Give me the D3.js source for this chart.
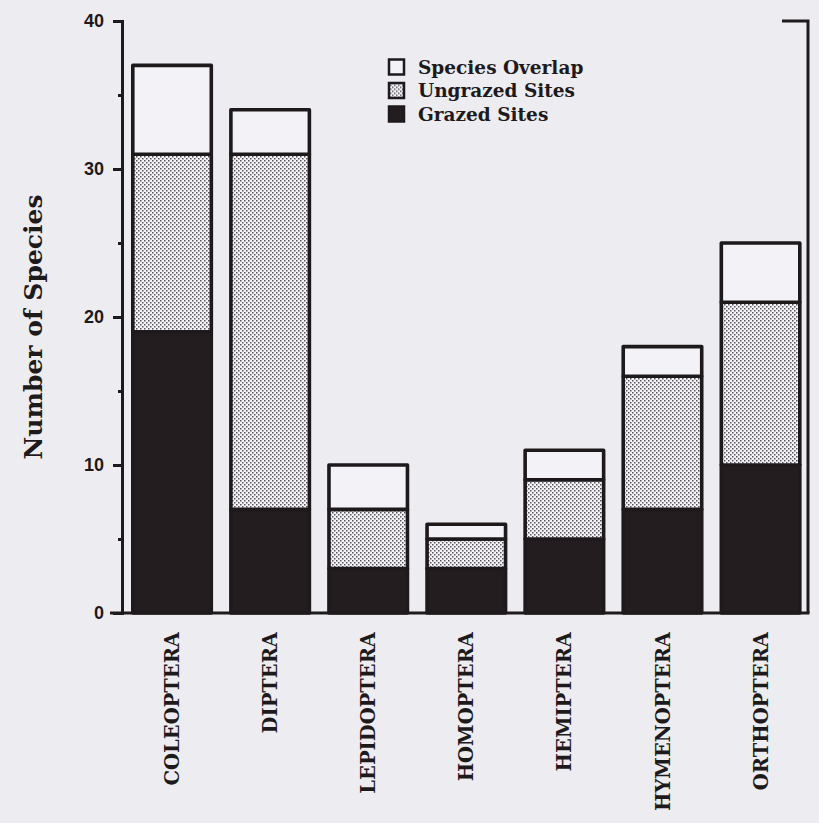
<!DOCTYPE html>
<html>
<head>
<meta charset="utf-8">
<script src="https://cdn.jsdelivr.net/npm/d3@7"></script>
<style>
  html, body { margin: 0; padding: 0; background: #edecf1; }
  svg { display: block; }
</style>
</head>
<body>
<svg id="chart" width="819" height="823"></svg>
<script>
// Insect orders and species counts, stacked bottom to top
const categories = ["COLEOPTERA", "DIPTERA", "LEPIDOPTERA", "HOMOPTERA", "HEMIPTERA", "HYMENOPTERA", "ORTHOPTERA"];
const grazed   = [19, 7, 3, 3, 5, 7, 10];
const ungrazed = [12, 24, 4, 2, 4, 9, 11];
const overlap  = [6, 3, 3, 1, 2, 2, 4];
const seriesKeys = ["grazed", "ungrazed", "overlap"];
const legendLabels = ["Species Overlap", "Ungrazed Sites", "Grazed Sites"];
const legendKeys = ["overlap", "ungrazed", "grazed"];
const majorTicks = [0, 10, 20, 30, 40];
const minorTicks = [5, 15, 25, 35];

const rows = categories.map((c, i) => ({
  category: c, grazed: grazed[i], ungrazed: ungrazed[i], overlap: overlap[i]
}));

const svg = d3.select("#chart");
const ink = "#1e1a1c";
const serif = "'DejaVu Serif', serif";

// Dotted halftone used for the ungrazed segments
const defs = svg.append("defs");
const pat = defs.append("pattern")
  .attr("id", "dots").attr("patternUnits", "userSpaceOnUse")
  .attr("width", 4).attr("height", 4);
pat.append("rect").attr("width", 4).attr("height", 4).attr("fill", "#f5f4f7");
pat.append("rect").attr("x", 0).attr("y", 0).attr("width", 1.5).attr("height", 1.5).attr("fill", "#55505a");
pat.append("rect").attr("x", 2).attr("y", 2).attr("width", 1.5).attr("height", 1.5).attr("fill", "#55505a");

const fills = { grazed: "#241d1f", ungrazed: "url(#dots)", overlap: "#f3f2f6" };

const x = d3.scaleBand().domain(categories).range([123, 809.6])
  .paddingInner(0.163).paddingOuter(0.0815);
const y = d3.scaleLinear().domain([0, 40]).range([613, 21]);

const stack = d3.stack().keys(seriesKeys)(rows);

// Bars
const sw = 3.6;
const layers = svg.append("g").selectAll("g").data(stack).join("g")
  .attr("fill", d => fills[d.key]);
layers.selectAll("rect").data(d => d).join("rect")
  .attr("x", d => x(d.data.category) + sw / 2)
  .attr("width", x.bandwidth() - sw)
  .attr("y", d => y(d[1]))
  .attr("height", d => y(d[0]) - y(d[1]))
  .attr("stroke", ink).attr("stroke-width", sw)
  .attr("stroke-linejoin", "round");

// Left axis with major and minor ticks
const axisG = svg.append("g").attr("transform", "translate(122,0)");
axisG.call(d3.axisLeft(y).tickValues(majorTicks).tickSize(9).tickPadding(9).tickFormat(d3.format("d")));
axisG.select(".domain").attr("stroke", ink).attr("stroke-width", 3);
axisG.selectAll(".tick line").attr("stroke", ink).attr("stroke-width", 3);
axisG.selectAll(".tick text")
  .attr("fill", ink)
  .style("font-family", "'Liberation Sans', Arial, sans-serif")
  .style("font-weight", "bold").style("font-size", "18px");

const minorG = svg.append("g").attr("transform", "translate(122,0)");
minorG.call(d3.axisLeft(y).tickValues(minorTicks).tickSize(4).tickFormat(""));
minorG.select(".domain").remove();
minorG.selectAll(".tick line").attr("stroke", ink).attr("stroke-width", 3);

// Baseline and right-hand frame
svg.append("line").attr("x1", 110).attr("x2", 809.5).attr("y1", y(0)).attr("y2", y(0))
  .attr("stroke", ink).attr("stroke-width", 3);
svg.append("path")
  .attr("d", `M782,${y(40)} H808 V${y(0)}`)
  .attr("fill", "none").attr("stroke", ink).attr("stroke-width", 3);

// Category labels, rotated
svg.append("g").selectAll("text").data(categories).join("text")
  .attr("transform", d => `translate(${x(d) + x.bandwidth() / 2},632) rotate(-90)`)
  .attr("text-anchor", "end").attr("dy", "0.36em")
  .attr("fill", ink)
  .style("font-family", serif).style("font-weight", "bold").style("font-size", "19.5px")
  .text(d => d);

// Y axis title
svg.append("text")
  .attr("transform", "translate(33,327) rotate(-90)")
  .attr("text-anchor", "middle").attr("dy", "0.36em")
  .attr("fill", ink)
  .style("font-family", serif).style("font-weight", "bold").style("font-size", "25px")
  .text("Number of Species");

// Legend
const legend = svg.append("g");
const lg = legend.selectAll("g").data(legendKeys).join("g")
  .attr("transform", (d, i) => `translate(388,${67 + i * 23.5})`);
lg.append("rect").attr("x", 1).attr("y", -7.5).attr("width", 15).attr("height", 15)
  .attr("fill", d => fills[d]).attr("stroke", ink).attr("stroke-width", 2.5);
lg.append("text").attr("x", 30).attr("dy", "0.36em")
  .attr("fill", ink)
  .style("font-family", serif).style("font-weight", "bold").style("font-size", "18.5px")
  .text((d, i) => legendLabels[i]);
</script>
</body>
</html>
